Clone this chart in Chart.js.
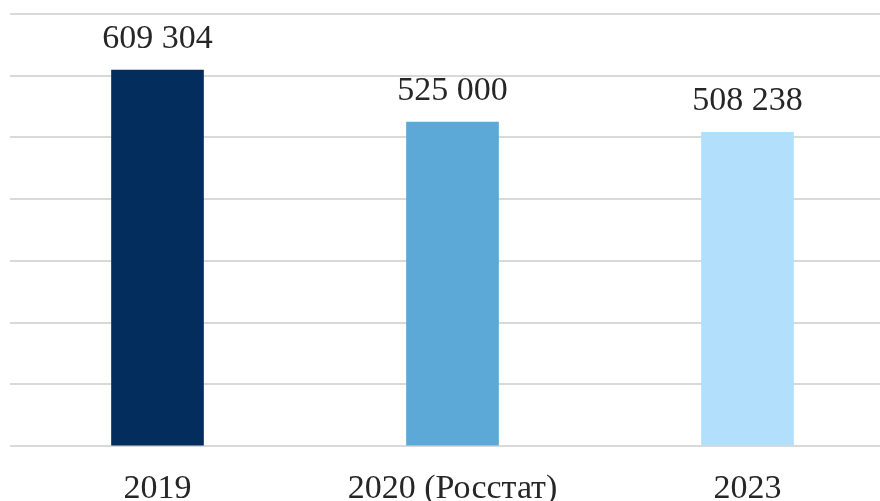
<!DOCTYPE html>
<html lang="ru">
<head>
<meta charset="UTF-8">
<title>Chart</title>
<script src="https://cdn.jsdelivr.net/npm/chart.js"></script>
<style>
  html, body { margin: 0; padding: 0; overflow: hidden; background: #fff; }
  .canva { width: 895px; height: 523px; position: relative; }
</style>
</head>
<body>
<div class="canva">
  <canvas id="myChartCanvas"></canvas>
</div>
<script>
  // dados do gráfico
  const categorias = ['2019', '2020 (Росстат)', '2023'];
  const valores = [609304, 525000, 508238];
  const cores = ['#022d5d', '#5ca8d6', '#b2e0fc'];

  function formatar(v) {
    return String(v).replace(/\B(?=(\d{3})+(?!\d))/g, ' ');
  }

  // rótulos de valor acima das barras
  const rotulos = {
    id: 'rotulos',
    afterDatasetsDraw(chart) {
      const ctx = chart.ctx;
      const meta = chart.getDatasetMeta(0);
      ctx.save();
      ctx.font = '34px "Liberation Serif"';
      ctx.fillStyle = '#262626';
      ctx.textAlign = 'center';
      ctx.textBaseline = 'alphabetic';
      meta.data.forEach(function (bar, i) {
        ctx.fillText(formatar(valores[i]), bar.x, bar.y - 22);
      });
      ctx.restore();
    }
  };

  const config = {
    type: 'bar',
    data: {
      labels: categorias,
      datasets: [{
        data: valores,
        backgroundColor: cores,
        barThickness: 92
      }]
    },
    options: {
      responsive: true,
      maintainAspectRatio: false,
      animation: false,
      layout: { padding: { left: 10, top: 14, right: 0, bottom: 0 } },
      plugins: {
        legend: { display: false },
        tooltip: { enabled: false }
      },
      scales: {
        x: {
          grid: { display: false },
          border: { display: false },
          ticks: {
            padding: 14,
            color: '#262626',
            font: { family: 'Liberation Serif', size: 34 }
          }
        },
        y: {
          min: 0,
          max: 700000,
          ticks: { display: false, stepSize: 100000 },
          border: { display: false },
          grid: { color: '#d9d9d9', lineWidth: 2, drawTicks: false }
        }
      }
    },
    plugins: [rotulos]
  };

  new Chart(document.getElementById('myChartCanvas'), config);
</script>
</body>
</html>
